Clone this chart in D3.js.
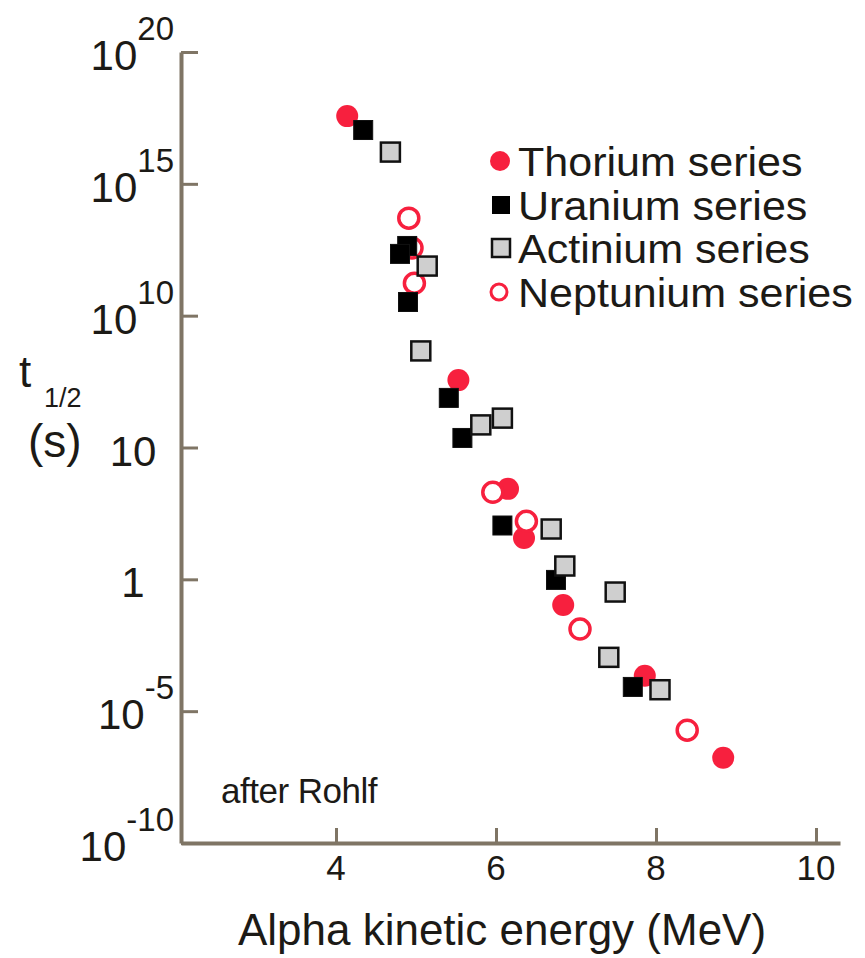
<!DOCTYPE html>
<html>
<head>
<meta charset="utf-8">
<script src="https://cdn.jsdelivr.net/npm/d3@7"></script>
<style>
body { margin: 0; background: #fff; }
text { font-family: "Liberation Sans", Arial, Helvetica, sans-serif; fill: #1c1a16; }
</style>
</head>
<body>
<svg id="svg"></svg>
<script>
var w = 865;
var h = 958;

// alpha energy (MeV) and half-life (s)
var thoriumE = [4.14, 5.53, 6.15, 6.35, 6.84, 7.86, 8.84];
var thoriumT = [3.7e17, 3.6e7, 2.7e3, 37, 0.107, 2.2e-4, 1.7e-7];

var uraniumE = [4.34, 4.89, 4.80, 4.90, 5.41, 5.58, 6.08, 6.75, 7.71];
var uraniumT = [1.1e17, 4.4e12, 2.2e12, 3.3e10, 7.6e6, 2.3e5, 1.1e2, 0.95, 8.3e-5];

var actiniumE = [4.68, 5.14, 5.06, 5.81, 6.08, 6.69, 6.86, 7.49, 7.41, 8.05];
var actiniumT = [1.6e16, 7.6e11, 4.6e8, 7.2e5, 1.3e6, 81, 3.2, 0.33, 1.1e-3, 6.5e-5];

var neptuniumE = [4.91, 4.95, 4.98, 5.96, 6.38, 7.05, 8.39];
var neptuniumT = [5.0e13, 3.7e12, 1.7e11, 2.0e3, 1.6e2, 1.3e-2, 1.9e-6];

var seriesNames = ["Thorium series", "Uranium series", "Actinium series", "Neptunium series"];

var xTicks = [4, 6, 8, 10];
var yTicks = [1e20, 1e15, 1e10, 1e5, 1, 1e-5, 1e-10];
// the original figure labels two of the ticks "10" and "1"
var yTickBase = ["10", "10", "10", "10", "1", "10", "10"];
var yTickExp = ["20", "15", "10", "", "", "-5", "-10"];

var red = "#f7203e";
var axisCol = "#7f7565";

var svg = d3.select("#svg")
    .attr("width", w)
    .attr("height", h);

svg.append("rect")
    .attr("width", w)
    .attr("height", h)
    .attr("fill", "#fff");

var x = d3.scaleLinear().domain([2.0625, 10.3]).range([181, 840]);
var y = d3.scaleLog().domain([1e-10, 1e20]).range([843, 52]);

// axes, ticks point inward
var yAxis = svg.append("g")
    .attr("transform", "translate(181,0)")
    .call(d3.axisLeft(y).tickValues(yTicks).tickSizeInner(-17).tickSizeOuter(0).tickFormat(""));

var xAxis = svg.append("g")
    .attr("transform", "translate(0,843)")
    .call(d3.axisBottom(x).tickValues(xTicks).tickSizeInner(-15).tickSizeOuter(0).tickFormat(""));

svg.selectAll(".domain").attr("stroke", axisCol).attr("stroke-width", 4);
svg.selectAll(".tick line").attr("stroke", axisCol).attr("stroke-width", 3);

// y tick labels with superscripts
yTicks.forEach(function(v, i) {
    var ty = y(v) + 18;
    if (yTickExp[i] == "") {
        svg.append("text")
            .attr("x", 133)
            .attr("y", ty)
            .attr("text-anchor", "middle")
            .attr("font-size", 42)
            .text(yTickBase[i]);
    } else {
        var t = svg.append("text")
            .attr("x", 174)
            .attr("y", ty)
            .attr("text-anchor", "end")
            .attr("font-size", 42);
        t.append("tspan").text(yTickBase[i]);
        t.append("tspan")
            .attr("dy", -30)
            .attr("font-size", 33)
            .text(yTickExp[i]);
    }
});

svg.selectAll("text.xlab")
    .data(xTicks)
    .enter().append("text")
    .attr("class", "xlab")
    .attr("x", function(d) { return x(d) })
    .attr("y", 880)
    .attr("text-anchor", "middle")
    .attr("font-size", 35)
    .text(function(d) { return d });

svg.append("text")
    .attr("x", 502)
    .attr("y", 945)
    .attr("text-anchor", "middle")
    .attr("font-size", 44)
    .text("Alpha kinetic energy (MeV)");

// t 1/2 (s)
svg.append("text").attr("x", 19).attr("y", 387).attr("font-size", 44).text("t");
svg.append("text").attr("x", 44).attr("y", 407).attr("font-size", 27).text("1/2");
svg.append("text").attr("x", 28).attr("y", 457).attr("font-size", 46).text("(s)");

svg.append("text")
    .attr("x", 221)
    .attr("y", 803)
    .attr("font-size", 35)
    .attr("letter-spacing", -0.5)
    .text("after Rohlf");

var zip = function(es, ts) {
    return es.map(function(e, i) { return {e: e, t: ts[i]} });
}

var plot = svg.append("g");

var circles = function(data, filled) {
    plot.selectAll(null)
        .data(data)
        .enter().append("circle")
        .attr("cx", function(d) { return x(d.e) })
        .attr("cy", function(d) { return y(d.t) })
        .attr("r", filled ? 11 : 10)
        .attr("fill", filled ? red : "#fff")
        .attr("stroke", red)
        .attr("stroke-width", filled ? 0 : 3.5);
}

var squares = function(data, fill, sz) {
    plot.selectAll(null)
        .data(data)
        .enter().append("rect")
        .attr("x", function(d) { return x(d.e) - sz / 2 })
        .attr("y", function(d) { return y(d.t) - sz / 2 })
        .attr("width", sz)
        .attr("height", sz)
        .attr("fill", fill)
        .attr("stroke", "#111")
        .attr("stroke-width", fill == "#000" ? 1 : 2.5);
}

circles(zip(thoriumE, thoriumT), true);
circles(zip(neptuniumE, neptuniumT), false);
squares(zip(uraniumE, uraniumT), "#000", 19);
squares(zip(actiniumE, actiniumT), "#cfcfcf", 19);

// legend
var legY = [161, 205, 248, 292];
var leg = svg.append("g");
leg.append("circle").attr("cx", 500).attr("cy", legY[0]).attr("r", 10).attr("fill", red);
leg.append("rect").attr("x", 492).attr("y", legY[1] - 9).attr("width", 18).attr("height", 18).attr("fill", "#000");
leg.append("rect").attr("x", 492).attr("y", legY[2] - 9).attr("width", 18).attr("height", 18)
    .attr("fill", "#cfcfcf").attr("stroke", "#111").attr("stroke-width", 2.5);
leg.append("circle").attr("cx", 499).attr("cy", legY[3]).attr("r", 8).attr("fill", "#fff")
    .attr("stroke", red).attr("stroke-width", 3);

// text a bit wide in the original, stretch slightly
leg.selectAll("text")
    .data(seriesNames)
    .enter().append("text")
    .attr("transform", function(d, i) { return "translate(518," + (legY[i] + 15) + ")scale(1.05,1)" })
    .attr("font-size", 41)
    .text(function(d) { return d });
</script>
</body>
</html>
